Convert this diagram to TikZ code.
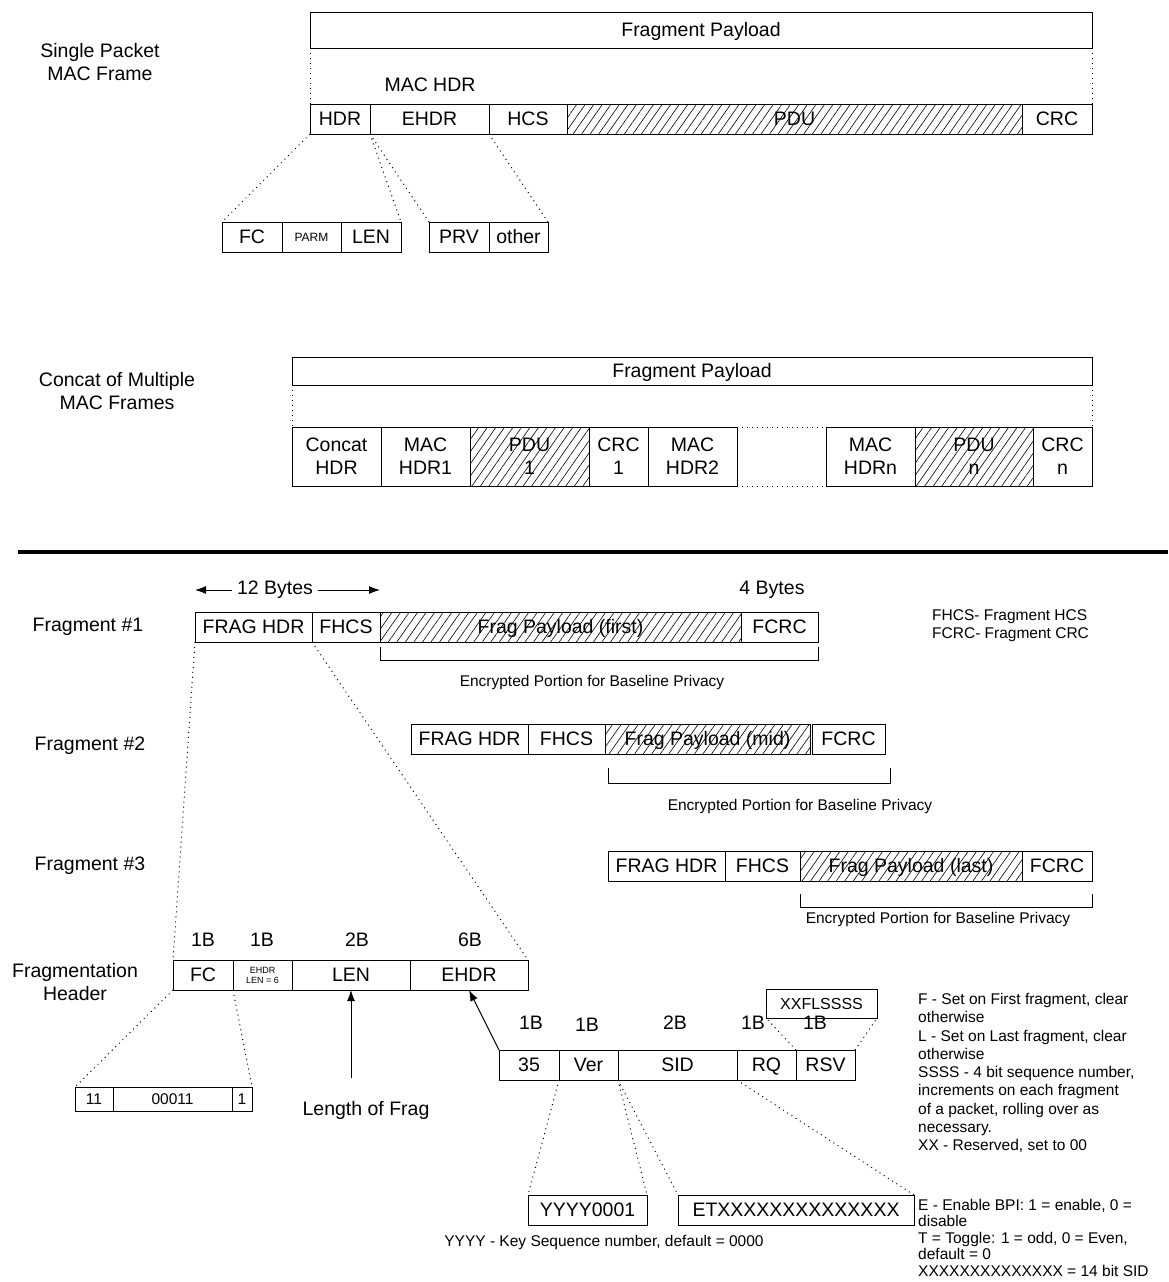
\documentclass[tikz,border=0pt]{standalone}
\usepackage{fontspec}
\setmainfont{Liberation Sans}
\usetikzlibrary{positioning,patterns.meta,arrows.meta}
\newcommand{\bigfont}{\fontsize{19.5}{23}\selectfont}
\newcommand{\notefont}{\fontsize{15.5}{18.3}\selectfont}

\begin{document}
\begin{tikzpicture}[
    x=1pt, y=-1pt,
    >={Latex[length=11pt, width=8pt]},
    cell/.style={draw, line width=1pt, inner sep=0pt, outer sep=0pt,
                 minimum height=30pt, font=\bigfont, align=center,
                 text height=14pt, text depth=1.5pt},
    hatched/.style={cell, pattern={Lines[angle=55, distance=7pt, line width=0.6pt]}},
    tall/.style={minimum height=59pt, text height=, text depth=},
    tinytext/.style={font=\fontsize{9}{10}\selectfont, text height=, text depth=},
    lbl/.style={font=\bigfont, align=center, inner sep=0pt},
    note/.style={font=\notefont, align=left, inner sep=0pt},
    dotline/.style={line width=1pt, dash pattern=on 1pt off 4pt},
    bracket/.style={line width=1pt}]

    \useasboundingbox (0,0) rectangle (1168,1282);

    % single packet
    \node[lbl] (single) at (100,62) {Single Packet\\MAC Frame};
    \node[cell, anchor=north west, minimum width=782pt, minimum height=36pt] (pay1) at (310,12) {Fragment Payload};
    \node[lbl] (machdr) at (430,85) {MAC HDR};
    \node[cell, anchor=north west, minimum width=60pt] (hdr) at (310,104) {HDR};
    \node[cell, minimum width=119pt, right=0pt of hdr] (ehdr) {EHDR};
    \node[cell, minimum width=78pt, right=0pt of ehdr] (hcs) {HCS};
    \node[hatched, minimum width=455pt, right=0pt of hcs] (pdu) {PDU};
    \node[cell, minimum width=70pt, right=0pt of pdu] (crc) {CRC};
    \draw[dotline] (pay1.south west) -- (hdr.north west);
    \draw[dotline] (pay1.south east) -- (crc.north east);

    \node[cell, anchor=north west, minimum width=60pt] (fc) at (222,222) {FC};
    \node[cell, minimum width=59pt, right=0pt of fc, font=\fontsize{12}{14}\selectfont,
          text height=8.6pt, text depth=0pt] (parm) {PARM};
    \node[cell, minimum width=60pt, right=0pt of parm] (len) {LEN};
    \node[cell, anchor=north west, minimum width=60pt] (prv) at (429,222) {PRV};
    \node[cell, minimum width=59pt, right=0pt of prv] (other) {other};
    \draw[dotline] (hdr.south west) -- (fc.north west);
    \draw[dotline] (hdr.south east) -- (len.north east);
    \draw[dotline] (ehdr.south west) -- (prv.north west);
    \draw[dotline] (hcs.south west) -- (other.north east);

    % concatenation
    \node[lbl] (concat) at (117,391) {Concat of Multiple\\MAC Frames};
    \node[cell, anchor=north west, minimum width=800pt, minimum height=28pt] (pay2) at (292,357) {Fragment Payload};
    \node[cell, tall, anchor=north west, minimum width=89pt] (cathdr) at (292,427) {Concat\\HDR};
    \node[cell, tall, minimum width=89pt, right=0pt of cathdr] (mac1) {MAC\\HDR1};
    \node[hatched, tall, minimum width=119pt, right=0pt of mac1] (pdu1) {PDU\\1};
    \node[cell, tall, minimum width=59pt, right=0pt of pdu1] (crc1) {CRC\\1};
    \node[cell, tall, minimum width=89pt, right=0pt of crc1] (mac2) {MAC\\HDR2};
    \node[cell, tall, minimum width=89pt, right=89pt of mac2] (macn) {MAC\\HDRn};
    \node[hatched, tall, minimum width=118pt, right=0pt of macn] (pdun) {PDU\\n};
    \node[cell, tall, minimum width=59pt, right=0pt of pdun] (crcn) {CRC\\n};
    \draw[dotline] (pay2.south west) -- (cathdr.north west);
    \draw[dotline] (pay2.south east) -- (crcn.north east);
    \draw[dotline] (mac2.north east) -- (macn.north west);
    \draw[dotline] (mac2.south east) -- (macn.south west);

    \draw[line width=3.5pt] (18,552) -- (1168,552);

    % fragments
    \node[lbl] (frag1) at (88,627) {Fragment \#1};
    \node[cell, anchor=north west, minimum width=117pt] (fh1) at (195,612) {FRAG HDR};
    \node[cell, minimum width=68pt, right=0pt of fh1] (fhcs1) {FHCS};
    \node[hatched, minimum width=361pt, right=0pt of fhcs1] (fpay1) {Frag Payload (first)};
    \node[cell, minimum width=77pt, right=0pt of fpay1] (fcrc1) {FCRC};
    \node[lbl] (twelve) at (275,590) {12 Bytes};
    \draw[->, line width=1pt] ([xshift=-5pt]twelve.west) -- (twelve.west -| fh1.west);
    \draw[->, line width=1pt] ([xshift=5pt]twelve.east) -- (twelve.east -| fhcs1.east);
    \node[lbl] (four) at (772,590) {4 Bytes};
    \draw[bracket] ([yshift=-5pt]fpay1.south west) -- ++(0,13) -| ([yshift=-5pt]fcrc1.south east);
    \node[note] (enc1) at (592,682) {Encrypted Portion for Baseline Privacy};
    \node[note, anchor=north west] (abbr) at (932,609) {FHCS- Fragment HCS\\FCRC- Fragment CRC};

    \node[lbl] (frag2) at (90,746) {Fragment \#2};
    \node[cell, anchor=north west, minimum width=117pt] (fh2) at (411,724) {FRAG HDR};
    \node[cell, minimum width=77pt, right=0pt of fh2] (fhcs2) {FHCS};
    \node[hatched, minimum width=205pt, right=0pt of fhcs2] (fpay2) {Frag Payload (mid)};
    \node[cell, minimum width=73pt, right=2pt of fpay2] (fcrc2) {FCRC};
    \draw[bracket] ([xshift=3pt, yshift=-14pt]fpay2.south west) -- ++(0,15) -| ([xshift=5pt, yshift=-14pt]fcrc2.south east);
    \node[note] (enc2) at (800,806) {Encrypted Portion for Baseline Privacy};

    \node[lbl] (frag3) at (90,866) {Fragment \#3};
    \node[cell, anchor=north west, minimum width=117pt] (fh3) at (608,851) {FRAG HDR};
    \node[cell, minimum width=75pt, right=0pt of fh3] (fhcs3) {FHCS};
    \node[hatched, minimum width=222pt, right=0pt of fhcs3] (fpay3) {Frag Payload (last)};
    \node[cell, minimum width=70pt, right=0pt of fpay3] (fcrc3) {FCRC};
    \draw[bracket] ([yshift=-13pt]fpay3.south west) -- ++(0,13) -| ([yshift=-13pt]fcrc3.south east);
    \node[note] (enc3) at (938,919) {Encrypted Portion for Baseline Privacy};

    % fragmentation header
    \node[lbl] (fraghdr) at (75,982) {Fragmentation\\Header};
    \node[cell, anchor=north west, minimum width=60pt] (fc2) at (173,960) {FC};
    \node[cell, tinytext, minimum width=59pt, right=0pt of fc2] (elen) {EHDR\\LEN = 6};
    \node[cell, minimum width=118pt, right=0pt of elen] (len2) {LEN};
    \node[cell, minimum width=118pt, right=0pt of len2] (ehdr2) {EHDR};
    \node[lbl] (szfc) at (203,940) {1B};
    \node[lbl] (szel) at (262,940) {1B};
    \node[lbl] (szlen) at (357,940) {2B};
    \node[lbl] (szeh) at (470,940) {6B};
    \draw[dotline] (fh1.south west) -- (fc2.north west);
    \draw[dotline] (fh1.south east) -- (ehdr2.north east);

    \node[cell, note, anchor=north west, minimum height=24pt, minimum width=38pt,
          text height=11pt, text depth=0pt] (b11) at (75,1087) {11};
    \node[cell, note, minimum height=24pt, minimum width=119pt, right=0pt of b11,
          text height=11pt, text depth=0pt] (b0) {00011};
    \node[cell, note, minimum height=24pt, minimum width=20pt, right=0pt of b0,
          text height=11pt, text depth=0pt] (b1) {1};
    \draw[dotline] (fc2.south west) -- (b11.north west);
    \draw[dotline] (fc2.south east) -- (b1.north east);

    \coordinate (lentail) at (351,1078);
    \draw[->, line width=1pt] (lentail) -- (lentail |- len2.south);
    \node[lbl] (lenfrag) at (366,1110) {Length of Frag};

    % extended header
    \node[cell, anchor=north west, minimum width=60pt] (r35) at (499,1050) {35};
    \node[cell, minimum width=59pt, right=0pt of r35] (ver) {Ver};
    \node[cell, minimum width=119pt, right=0pt of ver] (sid) {SID};
    \node[cell, minimum width=59pt, right=0pt of sid] (rq) {RQ};
    \node[cell, minimum width=59pt, right=0pt of rq] (rsv) {RSV};
    \draw[->, line width=1pt] (r35.north west) -- (ehdr2.south);
    \node[lbl] (sz35) at (531,1023) {1B};
    \node[lbl] (szver) at (587,1025) {1B};
    \node[lbl] (szsid) at (675,1023) {2B};
    \node[lbl] (szrq) at (753,1023) {1B};
    \node[lbl] (szrsv) at (815,1023) {1B};

    \node[cell, anchor=north west, minimum width=111pt, minimum height=29pt,
          font=\fontsize{16}{18}\selectfont, text height=11.5pt, text depth=0pt] (xx) at (766,989) {XXFLSSSS};
    \draw[dotline] (rq.north east) -- (xx.south west);
    \draw[dotline] (rsv.north east) -- (xx.south east);
    \node[note, anchor=north west] (fnote) at (918,993) {F - Set on First fragment, clear\\otherwise\\L - Set on Last fragment, clear\\otherwise\\SSSS - 4 bit sequence number,\\increments on each fragment\\of a packet, rolling over as\\necessary.\\XX - Reserved, set to 00};

    \node[cell, anchor=north west, minimum width=119pt] (yyyy) at (528,1195) {YYYY0001};
    \node[cell, anchor=north west, minimum width=236pt] (etx) at (678,1195) {ETXXXXXXXXXXXXXX};
    \draw[dotline] (r35.south east) -- (yyyy.north west);
    \draw[dotline] (ver.south east) -- (yyyy.north east);
    \draw[dotline] (ver.south east) -- (etx.north west);
    \draw[dotline] (sid.south east) -- (etx.north east);
    \node[note] (keyseq) at (604,1242) {YYYY - Key Sequence number, default = 0000};
    \node[note, anchor=north west, font=\fontsize{15.5}{16.5}\selectfont] (enote) at (918,1199) {E - Enable BPI: 1 = enable, 0 =\\disable\\T = Toggle: 1 = odd, 0 = Even,\\default = 0\\XXXXXXXXXXXXXX = 14 bit SID};

\end{tikzpicture}
\end{document}
